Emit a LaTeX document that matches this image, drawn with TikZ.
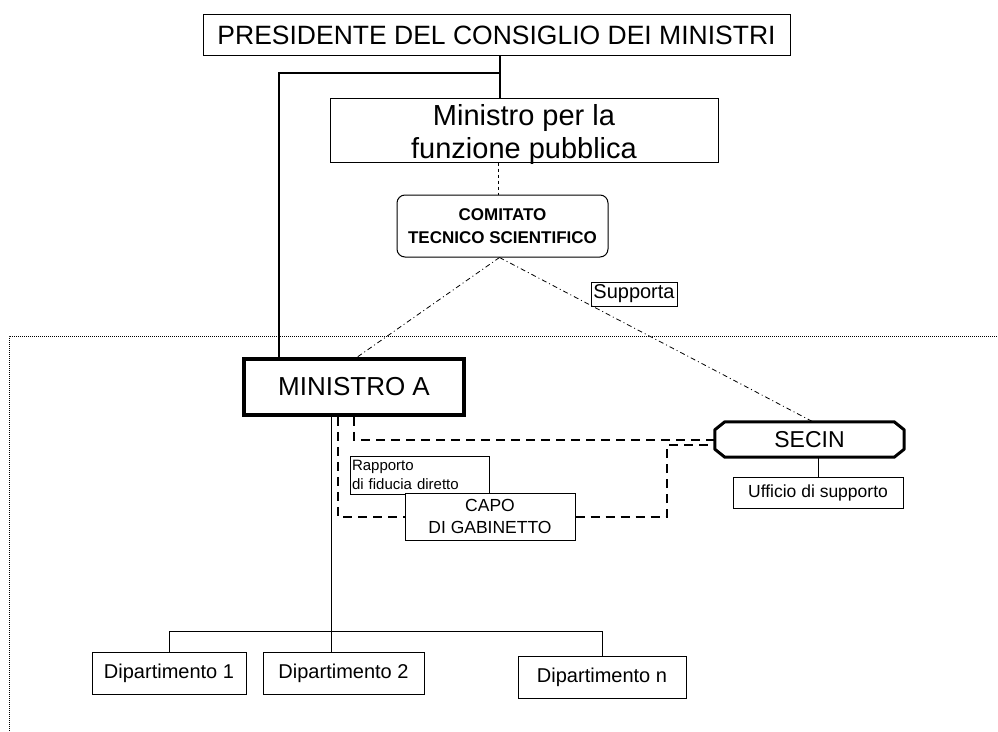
\documentclass[tikz,border=0pt]{standalone}
\usepackage{fontspec}
\setmainfont{Liberation Sans}

\begin{document}
\begin{tikzpicture}[x=1pt,y=-1pt]%
  \tikzstyle{boxn}=[rectangle,draw,fill=white,line width=1pt,inner sep=0pt,align=center]
  \tikzstyle{dept}=[boxn,minimum height=42pt,font=\fontsize{20}{24}\selectfont]
  \tikzstyle{dashn}=[line width=2pt,dash pattern=on 9pt off 6pt]
  \tikzstyle{dashdotn}=[line width=0.8pt,dash pattern=on 5pt off 3pt on 1pt off 3pt]
  \useasboundingbox (0,0) rectangle (998,731);
  \node(pres)[boxn,minimum width=587pt,minimum height=41pt,font=\fontsize{26.5}{30}\selectfont] at (496.5,35) {PRESIDENTE DEL CONSIGLIO DEI MINISTRI};
  \node(mfp)[boxn,minimum width=388pt,minimum height=64pt] at (524,130) {};
  \node(mfpt)[align=center,inner sep=0pt,font=\fontsize{29}{33}\selectfont] at (524,134) {Ministro per la\\funzione pubblica};
  \node(cts)[boxn,rounded corners=8pt,minimum width=211pt,minimum height=62pt,font=\fontsize{17}{23}\selectfont\bfseries] at (502.5,226) {COMITATO\\TECNICO SCIENTIFICO};
  \node(supp)[boxn,minimum width=86pt,minimum height=24pt,font=\fontsize{20}{24}\selectfont] at (634,294) {Supporta};
  \node(minA)[boxn,line width=3.5pt,minimum width=220pt,minimum height=56pt,font=\fontsize{26}{30}\selectfont] at (354,387) {MINISTRO A};
  \node(secin)[rectangle,fill=white,inner sep=0pt,minimum width=189pt,minimum height=35pt,font=\fontsize{23}{26}\selectfont] at (809.5,439.5) {SECIN};
  \node(uff)[boxn,minimum width=170pt,minimum height=31pt,font=\fontsize{17.5}{21}\selectfont] at (818,492.5) {Ufficio di supporto};
  \node(rapp)[boxn,align=left,text width=135pt,minimum height=38pt,inner sep=2pt,font=\fontsize{15}{19}\selectfont] at (419.5,475) {Rapporto\\di fiducia diretto};
  \node(capo)[boxn,minimum width=170pt,minimum height=47pt,font=\fontsize{17.5}{22}\selectfont] at (490,516.5) {CAPO\\DI GABINETTO};
  \node(dip1)[dept,minimum width=154pt] at (169,673) {Dipartimento 1};
  \node(dip2)[dept,minimum width=161pt] at (343.5,673) {Dipartimento 2};
  \node(dipn)[dept,minimum width=168pt] at (602,677) {Dipartimento n};
  \draw[line width=3pt,line join=round] ([xshift=10pt]secin.north west) -- ([xshift=-10pt]secin.north east)
    -- ([yshift=-8pt]secin.north east) -- ([yshift=8pt]secin.south east) -- ([xshift=-10pt]secin.south east)
    -- ([xshift=10pt]secin.south west) -- ([yshift=8pt]secin.south west) -- ([yshift=-8pt]secin.north west) -- cycle;
  \coordinate (j1) at (500,73);
  \coordinate (k) at (667,445);
  \coordinate (br) at (331,631);
  \coordinate (f1) at (9,731);
  \coordinate (f2) at (9,336);
  \coordinate (f3) at (998,336);
  \draw[line width=2pt] (pres.south -| j1) -- (mfp.north -| j1);
  \draw[line width=2pt] (j1) -| ([xshift=-75pt]minA.north);
  \draw[dashed,line width=0.8pt] ([xshift=-4pt]mfp.south -| cts.north) -- ([xshift=-4pt]cts.north);
  \draw[dashdotn] ([xshift=-3pt]cts.south) -- ([xshift=3pt]minA.north);
  \draw[dashdotn] ([xshift=-3pt]cts.south) -- ([xshift=3.5pt]secin.north);
  \draw[densely dotted,line width=1pt] (f1) -- (f2) -- (f3);
  \draw[dashn] ([xshift=-16pt]minA.south) |- (capo.west);
  \draw[dashn] (capo.east) -| (k) -- (secin.west |- k);
  \draw[dashn] (minA.south) |- (secin.west);
  \draw[line width=1pt] (secin.south -| uff.north) -- (uff.north);
  \draw[line width=1pt] (minA.south -| br) -- (dip2.north -| br);
  \draw[line width=1pt] (dip1.north) |- (dipn.north |- br) -- (dipn.north);
\end{tikzpicture}
\end{document}
